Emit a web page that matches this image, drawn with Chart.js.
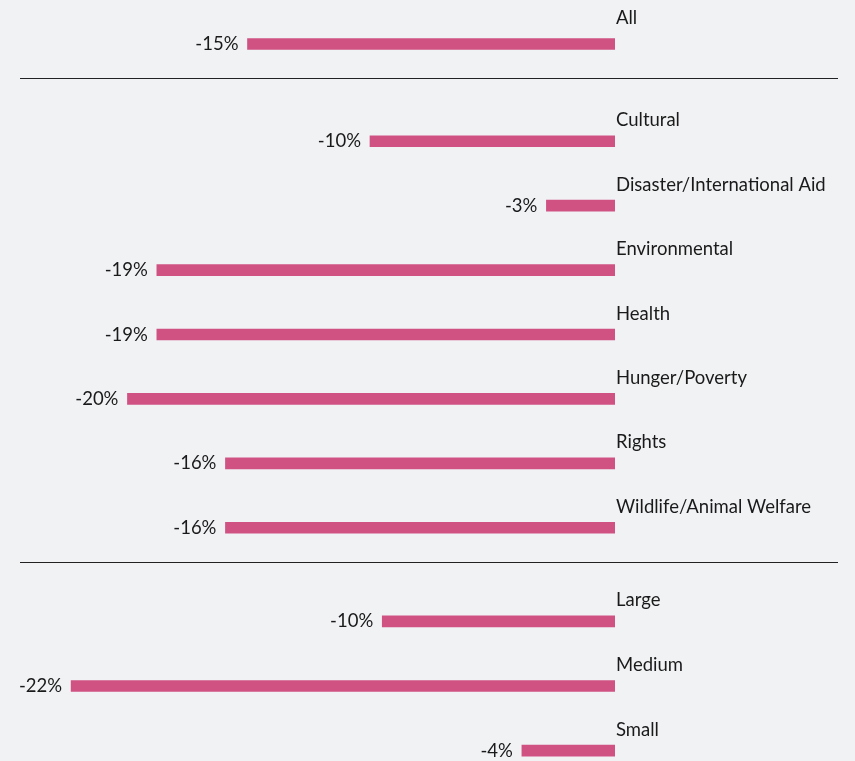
<!DOCTYPE html>
<html>
<head>
<meta charset="utf-8">
<script src="https://cdn.jsdelivr.net/npm/chart.js@4"></script>
<style>
  html, body { margin: 0; padding: 0; background: #f1f2f4; overflow: hidden; }
  body { width: 855px; height: 761px; position: relative; }
  .box { position: absolute; left: 0; width: 855px; }
  .rule { position: absolute; left: 20px; width: 818px; height: 0; border-top: 1.5px solid #222; }
</style>
</head>
<body>
<div class="box" style="top:0px;height:88px"><canvas id="c1"></canvas></div>
<div class="rule" style="top:78px"></div>
<div class="box" style="top:109px;height:451px"><canvas id="c2"></canvas></div>
<div class="rule" style="top:562px"></div>
<div class="box" style="top:589px;height:194px"><canvas id="c3"></canvas></div>
<script>
// change in giving, percent
const allLabels = ['All'];
const allValues = [-15.0];

const causeLabels = ['Cultural', 'Disaster/International Aid', 'Environmental', 'Health',
  'Hunger/Poverty', 'Rights', 'Wildlife/Animal Welfare'];
const causeValues = [-10.0, -2.8, -18.7, -18.7, -19.9, -15.9, -15.9];

const sizeLabels = ['Large', 'Medium', 'Small'];
const sizeValues = [-9.5, -22.2, -3.8];

const FONT = 'Lato, "Open Sans", sans-serif';

// draws category name above each bar and the rounded value left of it
const barText = {
  id: 'barText',
  afterDatasetsDraw(chart, args, opts) {
    const ctx = chart.ctx;
    const meta = chart.getDatasetMeta(0);
    const gap = opts.gap || 15;
    ctx.save();
    ctx.font = '18.5px ' + FONT;
    ctx.fillStyle = '#1a1a1a';
    meta.data.forEach((bar, i) => {
      const v = chart.data.datasets[0].data[i];
      ctx.textAlign = 'left';
      ctx.textBaseline = 'alphabetic';
      ctx.fillText(chart.data.labels[i], bar.base + 1, bar.y - gap);
      ctx.textAlign = 'right';
      ctx.fillText('-' + Math.round(Math.abs(v)) + '%', bar.x - 9, bar.y + 6);
    });
    ctx.restore();
  }
};

function makeChart(id, labels, values, gap) {
  const ctx = document.getElementById(id).getContext('2d');
  return new Chart(ctx, {
    type: 'bar',
    data: {
      labels: labels,
      datasets: [{
        data: values,
        backgroundColor: '#cf5283',
        borderWidth: 0,
        barThickness: 11
      }]
    },
    options: {
      indexAxis: 'y',
      responsive: true,
      maintainAspectRatio: false,
      animation: false,
      layout: { padding: { left: 2.5, right: 240, top: 0, bottom: 0 } },
      plugins: {
        legend: { display: false },
        tooltip: { enabled: false },
        barText: { gap: gap }
      },
      scales: {
        x: { min: -25, max: 0, display: false },
        y: { display: false }
      }
    },
    plugins: [barText]
  });
}

makeChart('c1', allLabels, allValues, 20);
makeChart('c2', causeLabels, causeValues, 15);
makeChart('c3', sizeLabels, sizeValues, 15);
</script>
</body>
</html>
